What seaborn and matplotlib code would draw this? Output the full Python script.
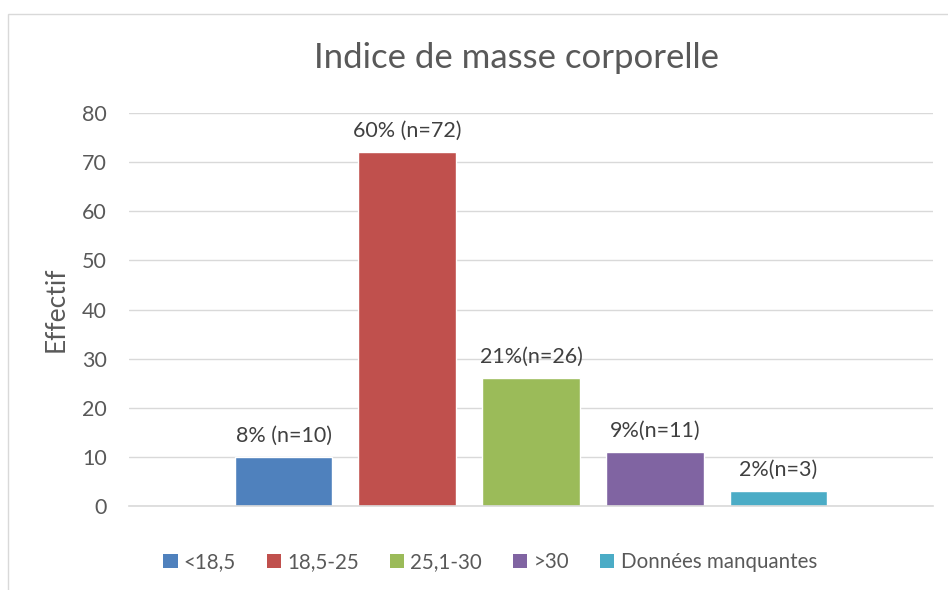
"""Indice de masse corporelle -- Excel-style bar chart."""

import matplotlib.pyplot as plt
import pandas as pd
import seaborn as sns
from matplotlib.patches import Patch, Rectangle

CATEGORIES = ["<18,5", "18,5-25", "25,1-30", ">30", "Données manquantes"]
COUNTS = [10, 72, 26, 11, 3]
LABELS = ["8% (n=10)", "60% (n=72)", "21%(n=26)", "9%(n=11)", "2%(n=3)"]
YTICKS = [0, 10, 20, 30, 40, 50, 60, 70, 80]

COLORS = ["#4F81BD", "#C0504D", "#9BBB59", "#8064A2", "#4BACC6"]
TEXT = "#595959"
GRID = "#D9D9D9"


def main() -> None:
  sns.set_theme(style = "white")
  plt.rcParams["font.family"] = ["Lato", "DejaVu Sans"]

  df = pd.DataFrame({"categorie" : CATEGORIES, "effectif" : COUNTS})

  fig = plt.figure(figsize = (9.48, 5.9), dpi = 100)
  ax = fig.add_axes([129 / 948, 1 - 506 / 590, 804 / 948, 393 / 590])

  sns.barplot(
    data = df,
    x = "categorie",
    y = "effectif",
    hue = "categorie",
    palette = COLORS,
    dodge = False,
    width = 0.79,
    legend = False,
    ax = ax,
    saturation = 1,
  )

  ax.set_xlim(-1.25, 5.25)
  ax.set_ylim(0, 80)
  ax.set_yticks(YTICKS)
  ax.set_xticks([])
  ax.set_xlabel("")
  ax.tick_params(axis = "y", labelsize = 15.5, labelcolor = TEXT, length = 0, pad = 16)
  ax.set_ylabel("Effectif", fontsize = 19, color = TEXT)
  ax.yaxis.set_label_coords((69 - 129) / 804, 0.5)
  ax.grid(True, axis = "y", color = GRID, linewidth = 1)
  ax.set_axisbelow(True)
  for side in ["top", "right", "left"] :
    ax.spines[side].set_visible(False)
  ax.spines["bottom"].set_color(GRID)
  ax.spines["bottom"].set_linewidth(1.2)

  for bar, label in zip(ax.patches, LABELS) :
    ax.annotate(
      label,
      (bar.get_x() + bar.get_width() / 2, bar.get_height()),
      xytext = (0, 8),
      textcoords = "offset points",
      ha = "center",
      va = "bottom",
      fontsize = 15.5,
      color = "#404040",
    )

  fig.text(516 / 948, 1 - 58 / 590, "Indice de masse corporelle", ha = "center", va = "center", fontsize = 25, color = TEXT)

  handles = [Patch(facecolor = color, edgecolor = "none") for color in COLORS]
  fig.legend(
    handles,
    CATEGORIES,
    loc = "center",
    bbox_to_anchor = (490 / 948, 1 - 562 / 590),
    ncol = 5,
    frameon = False,
    fontsize = 14.8,
    handlelength = 0.7,
    handleheight = 0.7,
    handletextpad = 0.3,
    columnspacing = 1.5,
    labelcolor = TEXT,
  )

  fig.patches.append(Rectangle(
    (8 / 948, -0.2), 1.2, 0.2 + (1 - 14 / 590),
    transform = fig.transFigure, fill = False, edgecolor = GRID, linewidth = 1,
  ))

  fig.savefig("out.png", dpi = 100, facecolor = "white")
  plt.close(fig)


if __name__ == "__main__" :
  main()
